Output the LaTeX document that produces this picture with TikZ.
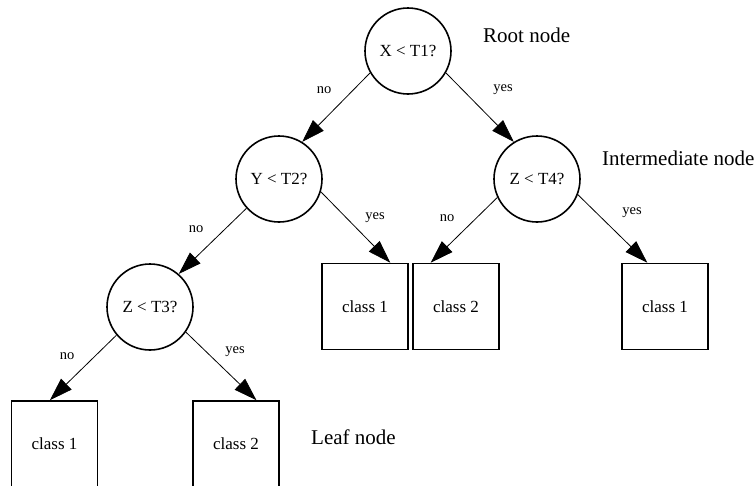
\documentclass[tikz,border=0pt]{standalone}
\usepackage{fontspec}
\setmainfont{Liberation Serif}
\usetikzlibrary{%
  arrows.meta,%
  shapes.geometric%
}

\begin{document}
\begin{tikzpicture}[x=1pt,y=-1pt]
 \useasboundingbox (0,0) rectangle (755,485);
 \begin{scope}[black,
   test/.style={draw,circle,line width=1.6pt,minimum size=86pt,inner sep=0pt,font=\fontsize{17}{20}\selectfont},
   leaf/.style={draw,rectangle,line width=1.6pt,minimum width=86pt,minimum height=86pt,inner sep=0pt,font=\fontsize{17}{20}\selectfont},
   edge/.style={line width=0.8pt,-{Triangle[length=23pt,width=15pt]}},
   lbl/.style={font=\fontsize{14.5}{17}\selectfont,inner sep=0pt},
   note/.style={font=\fontsize{21}{24}\selectfont,inner sep=0pt,anchor=west}]
   % Testknoten
   \node[test] (root) at (408,51) {X < T1?};
   \node[test] (yt2) at (279,179) {Y < T2?};
   \node[test] (zt4) at (537,179) {Z < T4?};
   \node[test] (zt3) at (150,307) {Z < T3?};

   % Blaetter
   \node[leaf] (c1) at (365,306.5) {class 1};
   \node[leaf] (c2) at (456,306.5) {class 2};
   \node[leaf] (c3) at (665,306.5) {class 1};
   \node[leaf] (b1) at (54.5,444) {class 1};
   \node[leaf] (b2) at (236,444) {class 2};

   % Kanten
   \draw[edge] (root.210) -- (yt2.58);
   \draw[edge] (root.-30) -- (zt4.122);
   \draw[edge] (yt2.222) -- (zt3.49);
   \draw[edge] (yt2.-17) -- (c1.60);
   \draw[edge] (zt4.205) -- (c2.120);
   \draw[edge] (zt4.-21) -- (c3.112);
   \draw[edge] (zt3.220) -- (b1.96);
   \draw[edge] (zt3.-35) -- (b2.65);

   \node[lbl] (n1) at (324,90) {no};
   \node[lbl] (y1) at (503,90) {yes};
   \node[lbl] (n2) at (196,229) {no};
   \node[lbl] (y2) at (375,218) {yes};
   \node[lbl] (n4) at (447,218) {no};
   \node[lbl] (y4) at (632,213) {yes};
   \node[lbl] (n3) at (67,356) {no};
   \node[lbl] (y3) at (235,352) {yes};

   % Beschriftung
   \node[note] (rootlbl) at (483,35) {Root node};
   \node[note] (intlbl) at (602,158) {Intermediate node};
   \node[note] (leaflbl) at (311,437) {Leaf node};
 \end{scope}
\end{tikzpicture}
\end{document}
